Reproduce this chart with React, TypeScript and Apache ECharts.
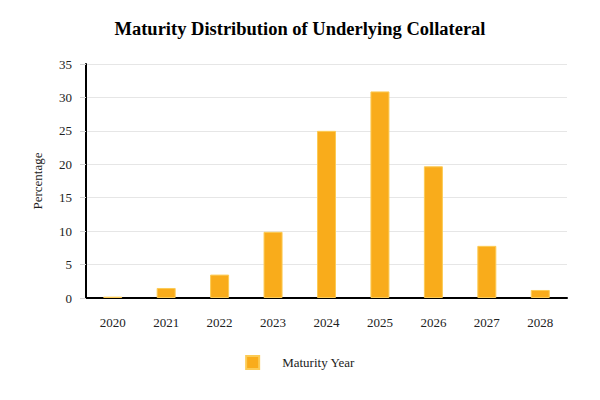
import React, { useEffect, useRef } from "react";
import * as echarts from "echarts";

const categories = ["2020", "2021", "2022", "2023", "2024", "2025", "2026", "2027", "2028"];
const values = [0.2, 1.5, 3.5, 9.9, 25.0, 30.9, 19.7, 7.8, 1.2];
const seriesName = "Maturity Year";
const titleText = "Maturity Distribution of Underlying Collateral";
const yAxisName = "Percentage";

export default function App() {
  const ref = useRef<HTMLDivElement>(null);
  useEffect(() => {
    if (!ref.current) return;
    const chart = echarts.init(ref.current, null, { renderer: "svg" });
    const font = "'Liberation Serif', serif";
    chart.setOption({
      animation: false,
      textStyle: { fontFamily: font },
      title: {
        text: titleText,
        left: "center",
        top: 14,
        textStyle: { fontFamily: font, fontSize: 18.5, fontWeight: "bold", color: "#000" },
      },
      legend: {
        bottom: 25,
        left: "center",
        itemWidth: 13,
        itemHeight: 13,
        itemGap: 10,
        icon: "rect",
        textStyle: { fontFamily: font, fontSize: 13, color: "#222", padding: [0, 0, 0, 18] },
        data: [seriesName],
      },
      grid: { left: 86, right: 33, top: 64, bottom: 102, containLabel: false },
      xAxis: {
        type: "category",
        data: categories,
        axisLine: { lineStyle: { color: "#000", width: 2 } },
        axisTick: { alignWithLabel: true, length: 6, lineStyle: { color: "#444" } },
        axisLabel: { fontFamily: font, fontSize: 13, color: "#222", margin: 18 },
      },
      yAxis: {
        type: "value",
        min: 0,
        max: 35,
        interval: 5,
        name: yAxisName,
        nameLocation: "middle",
        nameGap: 42,
        nameTextStyle: { fontFamily: font, fontSize: 13, color: "#222" },
        axisLine: { show: true, lineStyle: { color: "#000", width: 2 } },
        axisTick: { show: true, length: 6, lineStyle: { color: "#d4d4d4" } },
        axisLabel: { fontFamily: font, fontSize: 13, color: "#222", margin: 14 },
        splitLine: { lineStyle: { color: "#e6e6e6", width: 1 } },
      },
      series: [
        {
          name: seriesName,
          type: "bar",
          data: values,
          barWidth: 19,
          itemStyle: { color: "#F9AC1B", borderColor: "#FCCB55", borderWidth: 1 },
        },
      ],
    });
    return () => chart.dispose();
  }, []);
  return <div ref={ref} style={{ width: 600, height: 400, position: "absolute", left: 0, top: 0 }} />;
}
